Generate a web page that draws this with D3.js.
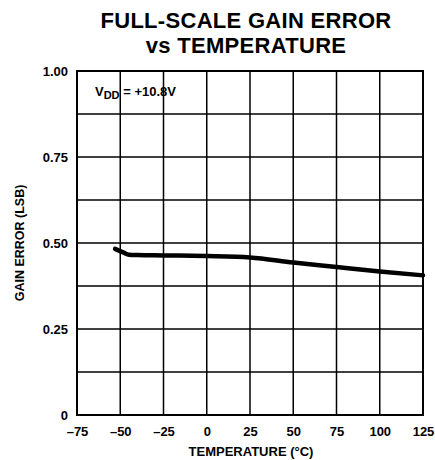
<!DOCTYPE html>
<html>
<head>
<meta charset="utf-8">
<script src="https://cdn.jsdelivr.net/npm/d3@7"></script>
<style>
  body { margin: 0; background: #fff; }
  text { font-family: "Liberation Sans", Arial, sans-serif; font-weight: bold; fill: #000; }
</style>
</head>
<body>
<div id="chart"></div>
<script>
// values
var temps = [-53, -48, -45, -40, -25, 0, 25, 50, 75, 100, 125];
var gainErr = [0.483, 0.472, 0.466, 0.465, 0.464, 0.462, 0.458, 0.443, 0.430, 0.417, 0.406];
var xTicks = [-75, -50, -25, 0, 25, 50, 75, 100, 125];
var yTicks = [0, 0.25, 0.5, 0.75, 1.0];
var yTickLabels = ["0", "0.25", "0.50", "0.75", "1.00"];
var yGrid = [0.125, 0.25, 0.375, 0.5, 0.625, 0.75, 0.875];

var svgWidth = 435;
var svgHeight = 460;
var margin = { top: 71, right: 12, bottom: 45, left: 77 };
var width = svgWidth - margin.left - margin.right;
var height = svgHeight - margin.top - margin.bottom;

var svg = d3.select("#chart")
  .append("svg")
  .attr("width", svgWidth)
  .attr("height", svgHeight);

// title
svg.append("text")
  .attr("x", 246).attr("y", 28)
  .attr("text-anchor", "middle")
  .attr("font-size", "22px")
  .attr("letter-spacing", "0.3px")
  .text("FULL-SCALE GAIN ERROR");
svg.append("text")
  .attr("x", 246).attr("y", 53)
  .attr("text-anchor", "middle")
  .attr("font-size", "22px")
  .attr("letter-spacing", "0.3px")
  .text("vs TEMPERATURE");

var chartGroup = svg.append("g")
  .attr("transform", `translate(${margin.left}, ${margin.top})`);

var xScale = d3.scaleLinear().domain([-75, 125]).range([0, width]);
var yScale = d3.scaleLinear().domain([0, 1]).range([height, 0]);

// grid
chartGroup.selectAll(".vgrid")
  .data(xTicks.slice(1, -1))
  .enter()
  .append("line")
  .attr("x1", d => xScale(d)).attr("x2", d => xScale(d))
  .attr("y1", 0).attr("y2", height)
  .attr("stroke", "#000").attr("stroke-width", 1.5);

chartGroup.selectAll(".hgrid")
  .data(yGrid)
  .enter()
  .append("line")
  .attr("x1", 0).attr("x2", width)
  .attr("y1", d => yScale(d)).attr("y2", d => yScale(d))
  .attr("stroke", "#000").attr("stroke-width", 1.5);

// frame
chartGroup.append("rect")
  .attr("width", width).attr("height", height)
  .attr("fill", "none").attr("stroke", "#000").attr("stroke-width", 2);

// axes (labels only)
var bottomAxis = d3.axisBottom(xScale)
  .tickValues(xTicks)
  .tickSize(0)
  .tickPadding(12)
  .tickFormat(d => d < 0 ? "\u2013" + Math.abs(d) : d);
var xAxis = chartGroup.append("g")
  .attr("transform", `translate(0, ${height})`)
  .call(bottomAxis);

var leftAxis = d3.axisLeft(yScale)
  .tickValues(yTicks)
  .tickSize(0)
  .tickPadding(9)
  .tickFormat((d, i) => yTickLabels[i]);
var yAxis = chartGroup.append("g").call(leftAxis);

[xAxis, yAxis].forEach(function(ax) {
  ax.select(".domain").remove();
  ax.selectAll("text")
    .attr("font-size", "13px")
    .attr("font-family", "Liberation Sans, Arial, sans-serif")
    .attr("font-weight", "bold")
    .attr("fill", "#000");
});

// data line
var line = d3.line()
  .x((d, i) => xScale(temps[i]))
  .y(d => yScale(d))
  .curve(d3.curveMonotoneX);

chartGroup.append("path")
  .datum(gainErr)
  .attr("d", line)
  .attr("fill", "none")
  .attr("stroke", "#000")
  .attr("stroke-width", 4.5)
  .attr("stroke-linecap", "round");

// annotation
var note = chartGroup.append("text")
  .attr("x", 18).attr("y", 25)
  .attr("font-size", "13px");
note.append("tspan").text("V");
note.append("tspan").attr("dy", 3).attr("font-size", "11px").text("DD");
note.append("tspan").attr("dy", -3).text(" = +10.8V");

// axis titles
svg.append("text")
  .attr("x", margin.left + width / 2 + 1)
  .attr("y", 456)
  .attr("text-anchor", "middle")
  .attr("font-size", "13px")
  .text("TEMPERATURE (\u00B0C)");

svg.append("text")
  .attr("transform", `translate(24, ${margin.top + height / 2}) rotate(-90)`)
  .attr("text-anchor", "middle")
  .attr("font-size", "12.5px")
  .text("GAIN ERROR (LSB)");
</script>
</body>
</html>
